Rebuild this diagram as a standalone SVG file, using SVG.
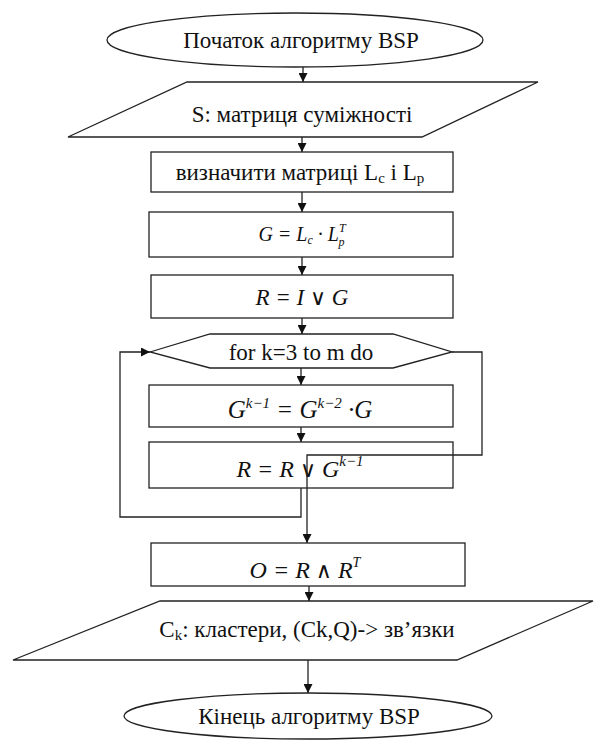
<svg xmlns="http://www.w3.org/2000/svg" width="594" height="740" viewBox="0 0 594 740">
<style>
.s{fill:#fff;stroke:#222;stroke-width:1.3}
.c{fill:none;stroke:#222;stroke-width:1.3}
text{font-family:"Liberation Serif","Times New Roman","DejaVu Serif",serif;fill:#111;text-anchor:middle}
.t{font-size:23px}
.m{font-style:italic}
.op{font-style:normal;font-family:"DejaVu Sans",sans-serif;font-weight:normal}
</style>
<defs>
<marker id="a" viewBox="0 0 10 10" refX="10" refY="5" markerWidth="9" markerHeight="9" markerUnits="userSpaceOnUse" orient="auto">
<path d="M0,0 L10,5 L0,10 z" fill="#111"/>
</marker>
</defs>
<g id="start">
<ellipse class="s" cx="295" cy="40" rx="188" ry="27"/>
<text class="t" x="301" y="48">Початок алгоритму BSP</text>
</g>
<g id="input">
<polygon class="s" points="187,82 538,82 422,137 68,137"/>
<text class="t" x="302" y="122">S: матриця суміжності</text>
</g>
<g id="define">
<rect class="s" x="151" y="152" width="302" height="40"/>
<text class="t" x="300" y="180">визначити матриці L<tspan font-size="15" dy="3">c</tspan><tspan dy="-3"> і L</tspan><tspan font-size="15" dy="3">p</tspan></text>
</g>
<g id="g-calc">
<rect class="s" x="149" y="212" width="304" height="45"/>
<text class="m" x="302" y="241" font-size="20">G = L<tspan font-size="12" dy="3">c</tspan><tspan dy="-3"> · L</tspan><tspan font-size="12" dy="-9">T</tspan><tspan font-size="12" dx="-7" dy="14">p</tspan></text>
</g>
<g id="r-init">
<rect class="s" x="151" y="275" width="302" height="43"/>
<text class="m" x="302" y="305" font-size="23">R = I <tspan class="op" font-size="22">∨</tspan> G</text>
</g>
<g id="loop">
<polygon class="s" points="150,352 210,334 393,334 452,352 393,368 210,368"/>
<text class="t" x="301" y="360" font-size="24">for k=3 to m do</text>
</g>
<g id="g-power">
<rect class="s" x="149" y="385" width="304" height="42"/>
<text class="m" x="300" y="418" font-size="25">G<tspan font-size="15" dy="-10">k−1</tspan><tspan dy="10"> = G</tspan><tspan font-size="15" dy="-10">k−2</tspan><tspan dy="10"> ·G</tspan></text>
</g>
<g id="r-update">
<rect class="s" x="149" y="442" width="304" height="46"/>
<text class="m" x="300" y="477" font-size="24">R = R <tspan class="op" font-size="22">∨</tspan> G<tspan font-size="15" dy="-11">k−1</tspan></text>
</g>
<g id="o-calc">
<rect class="s" x="151" y="543" width="314" height="43"/>
<text class="m" x="305" y="578" font-size="24">O = R <tspan class="op" font-size="22">∧</tspan> R<tspan font-size="14" dy="-11">T</tspan></text>
</g>
<g id="output">
<polygon class="s" points="160,601 593,601 457,660 13,660"/>
<text class="t" x="307" y="637">C<tspan font-size="15" dy="3">k</tspan><tspan dy="-3">: кластери, (Ck,Q)-&gt; зв’язки</tspan></text>
</g>
<g id="end">
<ellipse class="s" cx="308" cy="716" rx="184" ry="23"/>
<text class="t" x="309" y="724">Кінець алгоритму BSP</text>
</g>
<g id="connectors">
<line class="c" x1="303" y1="67" x2="303" y2="82" marker-end="url(#a)"/>
<line class="c" x1="302" y1="137" x2="302" y2="152" marker-end="url(#a)"/>
<line class="c" x1="302" y1="192" x2="302" y2="212" marker-end="url(#a)"/>
<line class="c" x1="302" y1="257" x2="302" y2="275" marker-end="url(#a)"/>
<line class="c" x1="302" y1="318" x2="302" y2="334" marker-end="url(#a)"/>
<line class="c" x1="301" y1="368" x2="301" y2="385" marker-end="url(#a)"/>
<line class="c" x1="301" y1="427" x2="301" y2="442" marker-end="url(#a)"/>
<polyline class="c" points="301,488 301,517 120,517 120,352 150,352" marker-end="url(#a)"/>
<polyline class="c" points="452,352 482,352 482,455 307,455 307,543" marker-end="url(#a)"/>
<line class="c" x1="309" y1="586" x2="309" y2="601" marker-end="url(#a)"/>
<line class="c" x1="308" y1="660" x2="308" y2="693" marker-end="url(#a)"/>
</g>
</svg>
